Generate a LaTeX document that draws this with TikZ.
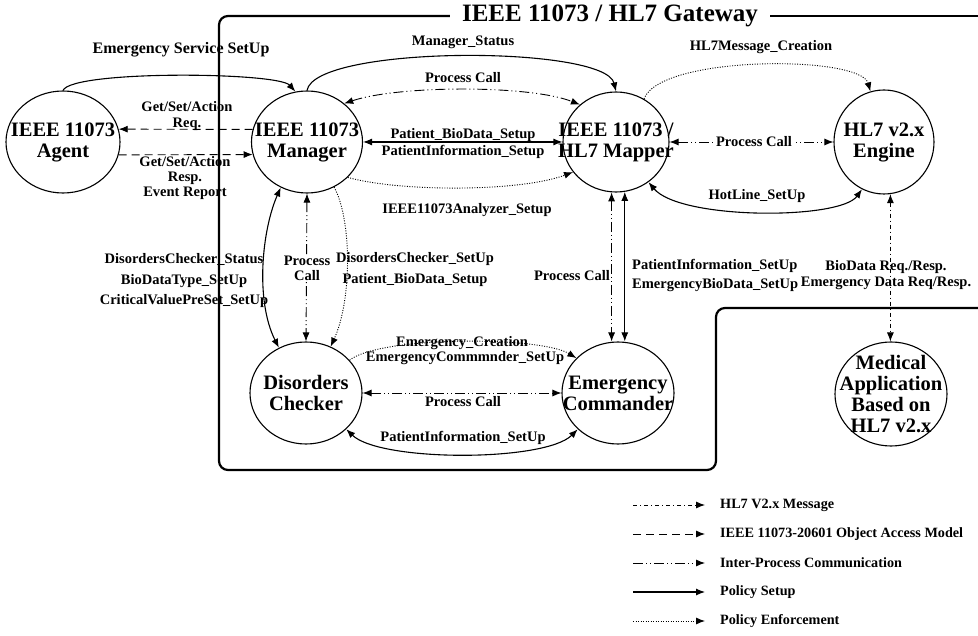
\documentclass[tikz,border=0pt]{standalone}
\usepackage{fontspec}
\setmainfont{Liberation Serif}
\usetikzlibrary{shapes.geometric,arrows.meta}

\tikzset{
  entity/.style={ellipse, draw, line width=1.1pt, inner sep=0pt, minimum width=110pt, minimum height=102pt},
  etext/.style={font=\fontsize{20.5}{21}\selectfont\bfseries, align=center, inner sep=0pt},
  lbl/.style={font=\fontsize{14.5}{16}\selectfont\bfseries, align=center, inner sep=1pt},
  legtext/.style={font=\fontsize{14.2}{15}\selectfont\bfseries, inner sep=2pt},
  hlmsg/.style={line width=0.9pt, dash pattern=on 4pt off 3pt on 1pt off 3pt},
  oam/.style={line width=0.9pt, dash pattern=on 8pt off 5pt},
  ipc/.style={line width=0.9pt, dash pattern=on 10pt off 3pt on 1pt off 3pt on 1pt off 3pt},
  setup/.style={line width=1.1pt},
  enforce/.style={line width=0.9pt, dash pattern=on 1pt off 1.5pt},
  >={Latex[length=9pt,width=7pt]}
}

\begin{document}
\begin{tikzpicture}[x=1pt,y=-1pt]
\useasboundingbox (0,0) rectangle (978,636);

% gateway frame
\node[font=\fontsize{25}{26}\selectfont\bfseries, inner xsep=12pt] (gw) at (610,16) {IEEE 11073 / HL7 Gateway};
\draw[line width=2.2pt, rounded corners=9pt] (gw.west) -- (219,16) -- (219,470) -- (716,470) -- (716,308) -- (990,308);
\draw[line width=2.2pt] (gw.east) -- (990,16);

% entities
\node[entity, minimum width=114pt, label={[etext]center:{IEEE 11073\\Agent}}] (agent) at (63,142) {};
\node[entity, minimum width=111pt, label={[etext]center:{IEEE 11073\\Manager}}] (mgr) at (307,142) {};
\node[entity, minimum width=106pt, minimum height=100pt, label={[etext]center:{IEEE 11073 /\\HL7 Mapper}}] (mapper) at (616,142) {};
\node[entity, minimum width=100pt, minimum height=104pt, label={[etext]center:{HL7 v2.x\\Engine}}] (engine) at (884,142) {};
\node[entity, minimum width=112pt, label={[etext]center:{Disorders\\Checker}}] (checker) at (306,393) {};
\node[entity, minimum width=112pt, label={[etext]center:{Emergency\\Commander}}] (commander) at (618,393) {};
\node[entity, minimum width=112pt, minimum height=104pt, label={[etext]center:{Medical\\Application\\Based on\\HL7 v2.x}}] (medapp) at (891,394) {};

% agent - manager
\draw[setup,->] (agent.north) .. controls (72,70) and (278,72) .. (mgr.103);
\node[lbl, font=\fontsize{16}{17}\selectfont\bfseries] (essetup) at (181,50) {Emergency Service SetUp};
\draw[oam,->] (mgr.167) -- (agent.13);
\node[lbl] (req) at (187,116) {Get/Set/Action\\Req.};
\draw[oam,->] (agent.-13) -- (mgr.-167);
\node[lbl, font=\fontsize{14.5}{15}\selectfont\bfseries] (resp) at (185,178) {Get/Set/Action\\Resp.\\Event Report};

% manager - mapper
\draw[setup,->] (mgr.north) .. controls (315,45) and (605,45) .. (mapper.north);
\node[lbl] (mstatus) at (463,42) {Manager\_Status};
\draw[ipc,<->] (mgr.46) .. controls (400,85) and (530,85) .. (mapper.134);
\node[lbl] (pcall1) at (463,78) {Process Call};
\draw[setup,<->] (mgr.east) -- (mapper.west);
\node[lbl] (pbio) at (463,135) {Patient\_BioData\_Setup};
\node[lbl] (pinfo) at (463,152) {PatientInformation\_Setup};
\draw[enforce,->] (mgr.-41) .. controls (400,192) and (520,192) .. (mapper.-145);
\node[lbl] (analyzer) at (467,210) {IEEE11073Analyzer\_Setup};

% mapper - engine
\draw[enforce,->] (mapper.57) .. controls (660,55) and (860,55) .. (engine.105);
\node[lbl] (hl7create) at (761,47) {HL7Message\_Creation};
\draw[ipc,<->] (mapper.east) -- (engine.west);
\node[lbl, fill=white, inner xsep=3pt] (pcall2) at (754,142) {Process Call};
\draw[setup,<->] (mapper.-51) .. controls (680,220) and (840,220) .. (engine.-115);
\node[lbl] (hotline) at (757,196) {HotLine\_SetUp};

% manager - checker
\draw[setup,<->] (mgr.240) .. controls (262,230) and (255,300) .. (checker.121);
\node[lbl, font=\fontsize{14.5}{20.5}\selectfont\bfseries] (dcstatus) at (184,281) {DisordersChecker\_Status\\BioDataType\_SetUp\\CriticalValuePreSet\_SetUp};
\draw[ipc,<->] (mgr.south) -- (checker.north);
\node[lbl, fill=white, font=\fontsize{14.5}{15}\selectfont\bfseries] (pcall3) at (307,268) {Process\\Call};
\draw[enforce,->] (mgr.-59) .. controls (352,220) and (352,300) .. (checker.62);
\node[lbl, font=\fontsize{14.5}{21}\selectfont\bfseries] (dcsetup) at (415,270) {DisordersChecker\_SetUp\\Patient\_BioData\_Setup};

% mapper - commander
\draw[ipc,<->] (mapper.-95) -- (mapper.-95 |- commander.north);
\draw[setup,<->] (mapper.-80) -- (mapper.-80 |- commander.north);
\node[lbl] (pcall4) at (572,276) {Process Call};
\node[lbl, anchor=west, align=left, font=\fontsize{14.5}{19}\selectfont\bfseries] (pinfo2) at (631,275) {PatientInformation\_SetUp\\EmergencyBioData\_SetUp};

% engine - medical application
\draw[hlmsg,<->] (engine.-83) -- (engine.-83 |- medapp.north);
\node[lbl, font=\fontsize{14.5}{16.5}\selectfont\bfseries] (biodata) at (886,275) {BioData Req./Resp.\\Emergency Data Req/Resp.};

% checker - commander
\draw[enforce,->] (checker.37) .. controls (380,336) and (540,336) .. (commander.140);
\node[lbl] (ecreate) at (462,343) {Emergency\_Creation};
\node[lbl] (ecsetup) at (465,358) {EmergencyCommmnder\_SetUp};
\draw[ipc,<->] (checker.east) -- (commander.west);
\node[lbl] (pcall5) at (463,402) {Process Call};
\draw[setup,<->] (checker.-42) .. controls (380,462) and (545,462) .. (commander.-138);
\node[lbl] (pinfo3) at (463,438) {PatientInformation\_SetUp};

% legend
\foreach \sty/\txt [count=\i] in {hlmsg/HL7 V2.x Message, oam/IEEE 11073-20601 Object Access Model, ipc/Inter-Process Communication, setup/Policy Setup, enforce/Policy Enforcement}{
  \coordinate (key\i) at (633,{476+29*\i});
  \node[legtext, anchor=west] (leg\i) at (718,{476+29*\i}) {\txt};
  \draw[\sty,->,shorten >=13pt] (key\i) -- (leg\i.west);
}
\end{tikzpicture}
\end{document}
